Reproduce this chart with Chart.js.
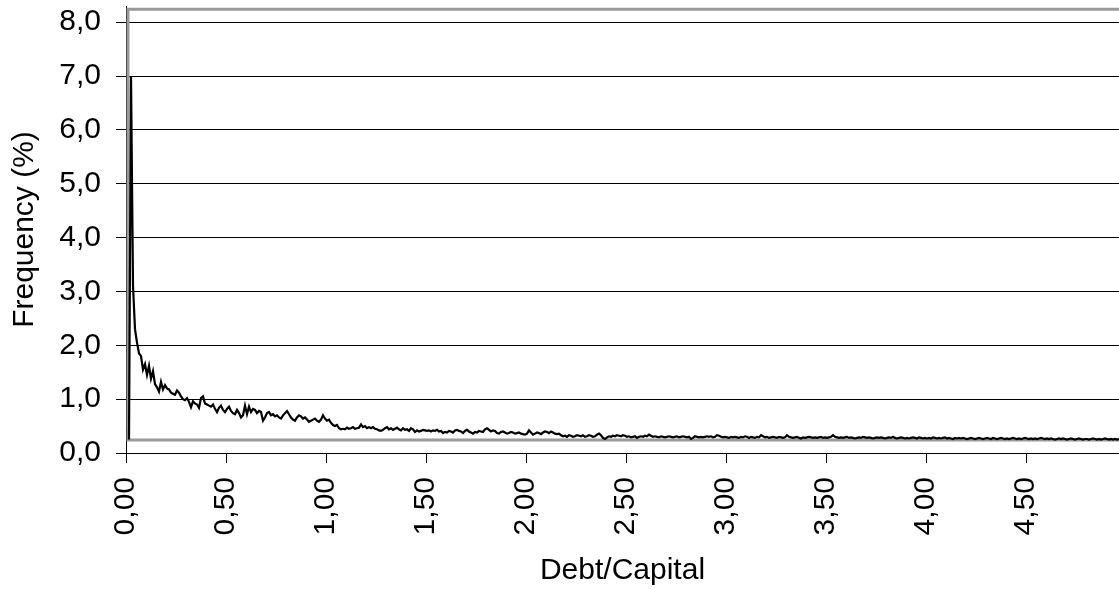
<!DOCTYPE html>
<html>
<head>
<meta charset="utf-8">
<script src="https://cdn.jsdelivr.net/npm/chart.js@4.4.1/dist/chart.umd.min.js"></script>
<style>
  body { margin: 0; background: #fff; }
  #wrap { width: 1119px; height: 589px; }
</style>
</head>
<body>
<div id="wrap"><canvas id="debtChart" width="1119" height="589"></canvas></div>
<script>
// bins of 0.01 on Debt/Capital, first bin centre at 0.015
const binStart = 0.015;
const binWidth = 0.01;

// frequency (%) per bin
const frequency = [
  0.25, 7.0, 3.1, 2.3, 2.05, 1.85, 1.8, 1.55, 1.65, 1.45, 1.62, 1.38, 1.52, 1.28, 1.22, 1.14, 1.32, 1.18, 1.26, 1.2,
  1.18, 1.12, 1.1, 1.08, 1.16, 1.12, 1.05, 1.0, 0.98, 1.02, 0.95, 0.85, 0.96, 0.92, 0.9, 0.84, 1.02, 1.05, 0.92, 0.9,
  0.88, 0.86, 0.9, 0.82, 0.76, 0.84, 0.88, 0.8, 0.76, 0.82, 0.86, 0.78, 0.74, 0.72, 0.8, 0.74, 0.66, 0.7, 0.88, 0.72,
  0.86, 0.76, 0.82, 0.8, 0.74, 0.78, 0.76, 0.6, 0.66, 0.74, 0.76, 0.7, 0.72, 0.68, 0.7, 0.66, 0.64, 0.7, 0.74, 0.78,
  0.72, 0.66, 0.62, 0.6, 0.66, 0.7, 0.68, 0.64, 0.66, 0.62, 0.58, 0.6, 0.62, 0.64, 0.6, 0.58, 0.62, 0.7, 0.64, 0.6,
  0.62, 0.56, 0.52, 0.5, 0.52, 0.46, 0.44, 0.45, 0.44, 0.47, 0.45, 0.46, 0.48, 0.45, 0.46, 0.47, 0.53, 0.48, 0.5, 0.46,
  0.48, 0.46, 0.48, 0.45, 0.44, 0.42, 0.41, 0.43, 0.46, 0.48, 0.44, 0.46, 0.43, 0.45, 0.47, 0.44, 0.42, 0.46, 0.43, 0.44,
  0.41, 0.46, 0.44, 0.39, 0.42, 0.4, 0.41, 0.43, 0.42, 0.41, 0.42, 0.4, 0.42, 0.41, 0.43, 0.4, 0.41, 0.37, 0.39, 0.38,
  0.41, 0.4, 0.38, 0.42, 0.43, 0.41, 0.4, 0.37, 0.41, 0.43, 0.4, 0.38, 0.36, 0.39, 0.38, 0.41, 0.4, 0.39, 0.44, 0.46,
  0.43, 0.4, 0.42, 0.41, 0.37, 0.36, 0.39, 0.4, 0.38, 0.36, 0.37, 0.39, 0.38, 0.36, 0.37, 0.38, 0.36, 0.35, 0.34, 0.36,
  0.42, 0.38, 0.34, 0.36, 0.38, 0.37, 0.35, 0.38, 0.4, 0.39, 0.37, 0.4, 0.38, 0.36, 0.35, 0.36, 0.33, 0.31, 0.32, 0.3,
  0.33, 0.32, 0.3, 0.31, 0.33, 0.32, 0.31, 0.33, 0.3, 0.31, 0.33, 0.32, 0.3, 0.31, 0.34, 0.36, 0.33, 0.28, 0.26, 0.29,
  0.31, 0.3, 0.32, 0.31, 0.33, 0.32, 0.31, 0.33, 0.32, 0.3, 0.31, 0.29, 0.3, 0.31, 0.28, 0.3, 0.31, 0.3, 0.32, 0.31,
  0.34, 0.32, 0.3, 0.31, 0.3, 0.29, 0.31, 0.3, 0.29, 0.3, 0.31, 0.3, 0.29, 0.3, 0.31, 0.29, 0.3, 0.31, 0.3, 0.29,
  0.3, 0.26, 0.28, 0.31, 0.3, 0.29, 0.3, 0.29, 0.3, 0.31, 0.3, 0.31, 0.29, 0.3, 0.33, 0.32, 0.3, 0.29, 0.3, 0.29,
  0.28, 0.3, 0.29, 0.3, 0.29, 0.28, 0.3, 0.29, 0.31, 0.3, 0.28, 0.3, 0.29, 0.28, 0.3, 0.29, 0.33, 0.31, 0.29, 0.3,
  0.28, 0.29, 0.3, 0.29, 0.28, 0.3, 0.29, 0.28, 0.29, 0.33, 0.3, 0.29, 0.28, 0.29, 0.3, 0.28, 0.27, 0.29, 0.28, 0.29,
  0.3, 0.29, 0.28, 0.29, 0.28, 0.29, 0.3, 0.28, 0.29, 0.28, 0.29, 0.3, 0.33, 0.3, 0.29, 0.28, 0.29, 0.28, 0.29, 0.3,
  0.28, 0.29, 0.28, 0.27, 0.28, 0.29, 0.28, 0.3, 0.29, 0.28, 0.29, 0.28, 0.27, 0.28, 0.29, 0.28, 0.29, 0.28, 0.27, 0.28,
  0.29, 0.28, 0.3, 0.28, 0.27, 0.28, 0.29, 0.28, 0.27, 0.28, 0.27, 0.28, 0.29, 0.28, 0.27, 0.29, 0.28, 0.27, 0.28, 0.27,
  0.28, 0.27, 0.29, 0.28, 0.27, 0.28, 0.27, 0.28, 0.29, 0.27, 0.28, 0.27, 0.26, 0.28, 0.27, 0.28, 0.27, 0.28, 0.27, 0.26,
  0.27, 0.28, 0.27, 0.26, 0.27, 0.28, 0.27, 0.26, 0.27, 0.28, 0.27, 0.26, 0.28, 0.27, 0.26, 0.27, 0.28, 0.27, 0.26, 0.27,
  0.26, 0.27, 0.28, 0.27, 0.26, 0.27, 0.26, 0.27, 0.28, 0.27, 0.26, 0.27, 0.26, 0.27, 0.26, 0.27, 0.28, 0.27, 0.26, 0.27,
  0.26, 0.27, 0.26, 0.25, 0.26, 0.27, 0.26, 0.27, 0.26, 0.25, 0.26, 0.27, 0.26, 0.25, 0.26, 0.27, 0.26, 0.25, 0.26, 0.26,
  0.25, 0.26, 0.27, 0.26, 0.25, 0.26, 0.25, 0.26, 0.27, 0.26, 0.25, 0.26, 0.25, 0.26, 0.25, 0.26
];

// grey reference frame series (x, y) pairs
const frameX = [5.0, 0.01, 0.01, 5.0];
const frameY = [0.24, 0.24, 8.24, 8.24];

const xTicks = [0, 0.5, 1, 1.5, 2, 2.5, 3, 3.5, 4, 4.5];
const yTicks = [0, 1, 2, 3, 4, 5, 6, 7, 8];

const font = { family: "'Liberation Sans', Arial, sans-serif", size: 30 };

const freqPoints = frequency.map((f, i) => ({ x: binStart + i * binWidth, y: f }));
const framePoints = frameX.map((x, i) => ({ x: x, y: frameY[i] }));

new Chart(document.getElementById("debtChart"), {
  type: "scatter",
  data: {
    datasets: [
      {
        data: framePoints,
        showLine: true,
        borderColor: "#9a9a9a",
        borderWidth: 3,
        pointRadius: 0,
        order: 2
      },
      {
        data: freqPoints,
        showLine: true,
        borderColor: "#000000",
        borderWidth: 2.2,
        pointRadius: 0,
        tension: 0,
        order: 1
      }
    ]
  },
  options: {
    responsive: false,
    animation: false,
    devicePixelRatio: 1,
    layout: { padding: { top: 6, right: 0, left: 0, bottom: 0 } },
    plugins: { legend: { display: false }, tooltip: { enabled: false } },
    scales: {
      x: {
        type: "linear",
        min: 0,
        max: 4.965,
        afterFit: s => { s.height = 136; s.paddingLeft = 0; s.paddingRight = 0; },
        afterBuildTicks: s => { s.ticks = xTicks.map(v => ({ value: v })); },
        grid: { drawOnChartArea: false, color: "#000", tickLength: 10, lineWidth: 1 },
        border: { color: "#000", width: 1 },
        ticks: {
          color: "#000",
          font: font,
          minRotation: 90,
          maxRotation: 90,
          padding: 14,
          callback: v => v.toFixed(2).replace(".", ",")
        },
        title: { display: true, text: "Debt/Capital", color: "#000", font: font, padding: { top: 0, bottom: 0 } }
      },
      y: {
        min: 0,
        max: 8.3,
        afterFit: s => { s.width = 126; s.paddingTop = 0; s.paddingBottom = 0; },
        afterBuildTicks: s => { s.ticks = yTicks.map(v => ({ value: v })); },
        grid: { color: "#000", tickLength: 10, lineWidth: 1 },
        border: { color: "#000", width: 1 },
        ticks: {
          color: "#000",
          font: font,
          padding: 15,
          callback: v => v.toFixed(1).replace(".", ",")
        },
        title: { display: true, text: "Frequency (%)", color: "#000", font: font, padding: { top: 7, bottom: 0 } }
      }
    }
  }
});
</script>
</body>
</html>
